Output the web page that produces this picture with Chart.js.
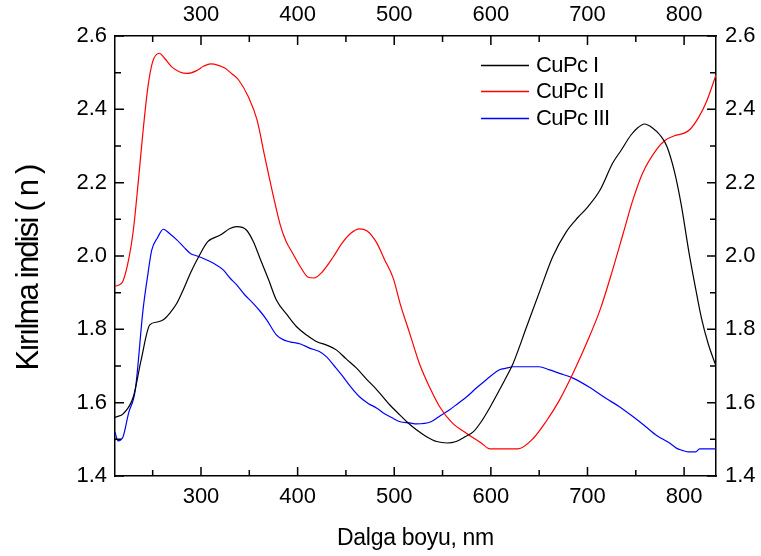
<!DOCTYPE html>
<html>
<head>
<meta charset="utf-8">
<script src="https://cdn.jsdelivr.net/npm/chart.js@4/dist/chart.umd.min.js"></script>
<style>
  html, body { margin: 0; padding: 0; background: #fff; }
  #wrap { width: 761px; height: 556px; }
  canvas { display: block; }
</style>
</head>
<body>
<div id="wrap"><canvas id="chart" width="761" height="556"></canvas></div>
<script>
// Refractive index spectra of three CuPc films
const seriesNames = ['CuPc I', 'CuPc II', 'CuPc III'];
const seriesColors = ['#000000', '#ff0000', '#0000ff'];

const cupc1Wavelength = [211, 220, 230, 238, 247, 255, 261, 268, 275, 282, 289, 298, 307, 320, 330, 337, 347, 354, 361, 370, 378, 389, 399, 410, 420, 430, 440, 450, 461, 471, 482, 495, 506, 513, 523, 533, 544, 555, 564, 572, 582, 590, 599, 609, 616, 623, 637, 651, 664, 678, 690, 699, 713, 726, 735, 745, 752, 759, 767, 775, 782, 790, 797, 805, 812, 818, 825, 833];
const cupc1Index = [1.560, 1.571, 1.616, 1.716, 1.812, 1.820, 1.826, 1.845, 1.871, 1.910, 1.953, 2.000, 2.039, 2.057, 2.075, 2.080, 2.071, 2.040, 1.994, 1.935, 1.880, 1.840, 1.807, 1.783, 1.766, 1.757, 1.744, 1.720, 1.694, 1.665, 1.635, 1.595, 1.566, 1.548, 1.526, 1.508, 1.494, 1.490, 1.494, 1.505, 1.521, 1.548, 1.587, 1.635, 1.670, 1.707, 1.807, 1.907, 1.998, 2.066, 2.105, 2.130, 2.180, 2.253, 2.289, 2.330, 2.350, 2.360, 2.350, 2.330, 2.300, 2.230, 2.140, 2.010, 1.910, 1.830, 1.760, 1.700];

const cupc2Wavelength = [211, 218, 225, 230, 235, 240, 245, 250, 257, 262, 270, 278, 286, 295, 303, 310, 318, 325, 332, 339, 349, 358, 366, 375, 382, 388, 395, 403, 411, 417, 425, 437, 446, 455, 464, 472, 482, 490, 499, 506, 516, 526, 537, 547, 560, 575, 590, 599, 628, 644, 657, 671, 685, 699, 713, 726, 737, 747, 757, 771, 780, 790, 800, 806, 815, 823, 833];
const cupc2Index = [1.918, 1.926, 1.989, 2.071, 2.200, 2.340, 2.460, 2.530, 2.553, 2.540, 2.515, 2.502, 2.498, 2.505, 2.518, 2.524, 2.520, 2.512, 2.497, 2.480, 2.434, 2.371, 2.271, 2.162, 2.085, 2.040, 2.007, 1.970, 1.942, 1.940, 1.955, 1.998, 2.035, 2.062, 2.074, 2.068, 2.035, 1.990, 1.939, 1.871, 1.789, 1.707, 1.640, 1.589, 1.545, 1.516, 1.490, 1.474, 1.474, 1.503, 1.548, 1.607, 1.680, 1.762, 1.853, 1.962, 2.062, 2.153, 2.226, 2.289, 2.315, 2.328, 2.335, 2.345, 2.378, 2.420, 2.494];

const cupc3Wavelength = [211, 214, 219, 225, 232, 240, 245, 249, 255, 261, 268, 275, 282, 289, 296, 302, 313, 323, 330, 337, 345, 354, 361, 368, 378, 385, 392, 403, 413, 422, 430, 438, 447, 455, 464, 473, 482, 490, 499, 506, 516, 523, 538, 548, 557, 566, 575, 585, 595, 609, 616, 623, 650, 660, 671, 685, 702, 719, 733, 747, 760, 772, 785, 792, 798, 804, 812, 816, 833];
const cupc3Index = [1.520, 1.496, 1.505, 1.571, 1.635, 1.853, 1.950, 2.016, 2.050, 2.073, 2.060, 2.044, 2.025, 2.007, 2.000, 1.994, 1.980, 1.962, 1.940, 1.921, 1.895, 1.871, 1.850, 1.826, 1.785, 1.772, 1.766, 1.760, 1.748, 1.740, 1.725, 1.700, 1.671, 1.643, 1.616, 1.598, 1.585, 1.570, 1.557, 1.548, 1.545, 1.542, 1.548, 1.565, 1.580, 1.598, 1.616, 1.640, 1.662, 1.690, 1.694, 1.698, 1.698, 1.690, 1.680, 1.667, 1.642, 1.612, 1.589, 1.562, 1.535, 1.510, 1.490, 1.476, 1.470, 1.466, 1.466, 1.474, 1.474];

// Axis ranges and tick positions
const xRange = [211, 833];
const yRange = [1.4, 2.6];
const xMajorTicks = [300, 400, 500, 600, 700, 800];
const xMinorTicks = [250, 350, 450, 550, 650, 750];
const yMajorTicks = [1.4, 1.6, 1.8, 2.0, 2.2, 2.4, 2.6];
const yMinorTicks = [1.5, 1.7, 1.9, 2.1, 2.3, 2.5];

const xTitle = 'Dalga boyu, nm';
const yTitle = 'Kırılma indisi ( n )';

const FONT = '"Liberation Sans", Arial, Helvetica, sans-serif';

const toPoints = (xs, ys) => xs.map((x, i) => ({ x: x, y: ys[i] }));
const seriesData = [
  toPoints(cupc1Wavelength, cupc1Index),
  toPoints(cupc2Wavelength, cupc2Index),
  toPoints(cupc3Wavelength, cupc3Index)
];

// Inward tick marks on all four sides of the frame
const frameTicks = {
  id: 'frameTicks',
  afterDraw(chart) {
    const { ctx, chartArea: a, scales } = chart;
    ctx.save();
    ctx.strokeStyle = '#000';
    ctx.lineWidth = 1.5;
    const vMarks = (scale, values, len) => {
      values.forEach(v => {
        const p = scale.getPixelForValue(v);
        ctx.beginPath();
        ctx.moveTo(p, a.bottom); ctx.lineTo(p, a.bottom - len);
        ctx.moveTo(p, a.top); ctx.lineTo(p, a.top + len);
        ctx.stroke();
      });
    };
    const hMarks = (scale, values, len) => {
      values.forEach(v => {
        const p = scale.getPixelForValue(v);
        ctx.beginPath();
        ctx.moveTo(a.left, p); ctx.lineTo(a.left + len, p);
        ctx.moveTo(a.right, p); ctx.lineTo(a.right - len, p);
        ctx.stroke();
      });
    };
    vMarks(scales.x, xMajorTicks, 9);
    vMarks(scales.x, xMinorTicks, 6);
    hMarks(scales.y, yMajorTicks, 9);
    hMarks(scales.y, yMinorTicks, 6);
    ctx.restore();
  }
};

// Axis titles and the line legend inside the plot
const labelsAndLegend = {
  id: 'labelsAndLegend',
  afterDraw(chart) {
    const { ctx, chartArea: a } = chart;
    ctx.save();
    ctx.fillStyle = '#000';

    // x title
    ctx.font = '23px ' + FONT;
    ctx.letterSpacing = '-0.3px';
    ctx.textAlign = 'center';
    ctx.textBaseline = 'alphabetic';
    ctx.fillText(xTitle, (a.left + a.right) / 2, 545);

    // y title, rotated
    ctx.save();
    ctx.translate(38, 268);
    ctx.rotate(-Math.PI / 2);
    ctx.font = '31px ' + FONT;
    ctx.letterSpacing = '-1.8px';
    ctx.textAlign = 'center';
    ctx.textBaseline = 'alphabetic';
    ctx.fillText(yTitle, 0, 0);
    ctx.restore();

    // legend
    ctx.font = '22px ' + FONT;
    ctx.letterSpacing = '-0.6px';
    ctx.textAlign = 'left';
    ctx.textBaseline = 'middle';
    const rows = [65.5, 91.5, 118.5];
    chart.data.datasets.forEach((ds, i) => {
      const y = rows[i];
      ctx.strokeStyle = ds.borderColor;
      ctx.lineWidth = 1.3;
      ctx.beginPath();
      ctx.moveTo(481, y);
      ctx.lineTo(529, y);
      ctx.stroke();
      ctx.fillText(ds.label, 536, y + 0.5);
    });
    ctx.restore();
  }
};

const tickFont = { family: FONT, size: 22 };

const xAxis = (position) => ({
  type: 'linear',
  position: position,
  min: xRange[0],
  max: xRange[1],
  grid: { display: false, drawTicks: false },
  border: { display: true, color: '#000', width: 1.5 },
  afterBuildTicks: (s) => { s.ticks = xMajorTicks.map(v => ({ value: v })); },
  afterFit: (s) => { s.height = position === 'bottom' ? 80 : 36; },
  ticks: {
    color: '#000', font: tickFont, padding: 8,
    autoSkip: false, maxRotation: 0,
    callback: (v) => String(v)
  }
});

const yAxis = (position) => ({
  type: 'linear',
  position: position,
  min: yRange[0],
  max: yRange[1],
  grid: { display: false, drawTicks: false },
  border: { display: true, color: '#000', width: 1.5 },
  afterBuildTicks: (s) => { s.ticks = yMajorTicks.map(v => ({ value: v })); },
  afterFit: (s) => { s.width = position === 'left' ? 115 : 45; },
  ticks: {
    color: '#000', font: tickFont, padding: position === 'left' ? 8 : 9,
    autoSkip: false,
    callback: (v) => Number(v).toFixed(1)
  }
});

new Chart(document.getElementById('chart'), {
  type: 'line',
  data: {
    datasets: seriesNames.map((name, i) => ({
      label: name,
      data: seriesData[i],
      borderColor: seriesColors[i],
      borderWidth: 1.2,
      pointRadius: 0,
      fill: false,
      cubicInterpolationMode: 'monotone',
      xAxisID: 'x',
      yAxisID: 'y'
    }))
  },
  options: {
    responsive: false,
    animation: false,
    devicePixelRatio: 1,
    layout: { padding: 0 },
    plugins: {
      legend: { display: false },
      tooltip: { enabled: false }
    },
    scales: {
      x: xAxis('bottom'),
      x2: xAxis('top'),
      y: yAxis('left'),
      y2: yAxis('right')
    }
  },
  plugins: [frameTicks, labelsAndLegend]
});
</script>
</body>
</html>
